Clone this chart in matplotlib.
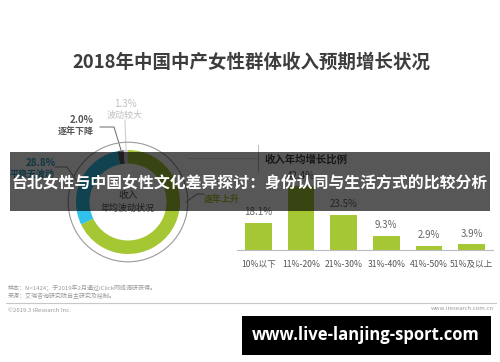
import matplotlib
matplotlib.use("Agg")
import matplotlib.pyplot as plt
from matplotlib.patches import Rectangle, Circle

plt.rcParams['font.family'] = ['Noto Sans CJK SC', 'DejaVu Sans']

# donut data (clockwise from 12 o'clock)
ring_names = ["逐年上升", "平稳无波动", "逐年下降", "波动较大"]
ring_values = [67.9, 28.8, 2.0, 1.3]
ring_colors = ["#a5c734", "#2fc2ea", "#595959", "#cfcfcf"]

# bar data
bar_cats = ["10%以下", "11%-20%", "21%-30%", "31%-40%", "41%-50%", "51%及以上"]
bar_values = [18.1, 42.4, 23.5, 9.3, 2.9, 3.9]

title = "2018年中国中产女性群体收入预期增长状况"
banner = "台北女性与中国女性文化差异探讨：身份认同与生活方式的比较分析"
site = "www.live-lanjing-sport.com"

W, H = 500, 362
fig = plt.figure(figsize=(5, 3.62), dpi=100)

# background axes in pixel coords
bg = fig.add_axes([0, 0, 1, 1])
bg.set_xlim(0, W)
bg.set_ylim(H, 0)
bg.axis("off")

bg.text(251, 62, title, ha="center", va="center", fontsize=13.3,
        fontweight="bold", color="#3d3d3d")

# donut labels and leader lines
bg.text(125, 104, "1.3%", ha="center", va="center", fontsize=7, color="#c0c0c0")
bg.text(125, 115, ring_names[3], ha="center", va="center", fontsize=6.5, color="#c0c0c0")
bg.plot([125, 126], [120, 150], color="#c8c8c8", lw=0.7)

bg.text(82, 120, "2.0%", ha="center", va="center", fontsize=7, fontweight="bold", color="#555555")
bg.text(76, 131, ring_names[2], ha="center", va="center", fontsize=6.5, fontweight="bold", color="#555555")
bg.plot([100, 114, 121], [127, 127, 150], color="#666666", lw=0.7)

bg.text(41, 163, "28.8%", ha="center", va="center", fontsize=7, fontweight="bold", color="#2a9cc2")
bg.text(32, 174, ring_names[1], ha="center", va="center", fontsize=6.5, fontweight="bold", color="#2a9cc2")
bg.plot([55, 67, 76], [167, 167, 180], color="#888888", lw=0.7)

bg.text(222, 199, ring_names[0], ha="center", va="center", fontsize=6.5, fontweight="bold", color="#a5c734")
bg.plot([186, 197, 204], [202, 194, 194], color="#888888", lw=0.7)

bg.text(128, 195, "收入", ha="center", va="center", fontsize=7, color="#555555")
bg.text(128, 208, "年均波动状况", ha="center", va="center", fontsize=6.5, color="#555555")

# right panel header
bg.plot([188, 258], [158, 158], color="#aaaaaa", lw=0.7, ls=(0, (1, 1.2)))
bg.plot([258, 258], [145, 172], color="#bbbbbb", lw=0.7)
bg.text(265, 159, "收入年均增长比例", ha="left", va="center", fontsize=7.5,
        fontweight="bold", color="#444444")

# footnotes
bg.text(8, 288, "样本：N=1424；于2019年2月通过iClick网络调研获得。", ha="left",
        va="center", fontsize=4.3, color="#9a9a9a")
bg.text(8, 296, "来源：艾瑞咨询研究院自主研究及绘制。", ha="left", va="center",
        fontsize=4.3, color="#9a9a9a")
bg.plot([6, 496], [303, 303], color="#c8c8c8", lw=0.8)
bg.text(8, 310, "©2019.3 iResearch Inc.", ha="left", va="center", fontsize=4.3, color="#9a9a9a")
bg.text(494, 309, "www.iresearch.com.cn", ha="right", va="center", fontsize=4.3, color="#9a9a9a")

# donut
cx, cy, half = 128, 202, 65
dax = fig.add_axes([(cx - half) / W, 1 - (cy + half) / H, 2 * half / W, 2 * half / H])
dax.pie(ring_values, colors=ring_colors, startangle=90, counterclock=False,
        radius=1.0, wedgeprops=dict(width=0.26, edgecolor="none"))
dax.add_patch(Circle((0, 0), 1.15, fill=False, ec="#9a9a9a", lw=0.8))
dax.set_xlim(-1.25, 1.25)
dax.set_ylim(-1.25, 1.25)
dax.set_aspect("auto")
dax.axis("off")

# bars
bax = fig.add_axes([237 / W, 1 - 250 / H, 256 / W, 75 / H])
xs = range(len(bar_values))
bax.bar(xs, bar_values, width=0.63, color="#a5c734")
for x, v in zip(xs, bar_values):
    bax.annotate(f"{v}%", (x, v), xytext=(0, 4), textcoords="offset points",
                 ha="center", va="bottom", fontsize=7, color="#666666")
bax.set_xlim(-0.5, 5.5)
bax.set_ylim(0, 50)
bax.set_xticks(list(xs))
bax.set_xticklabels(bar_cats, fontsize=6.2, color="#555555")
bax.tick_params(axis="x", length=0, pad=7)
bax.set_yticks([])
for s in ["top", "right", "left"]:
    bax.spines[s].set_visible(False)
bax.spines["bottom"].set_color("#bbbbbb")
bax.spines["bottom"].set_linewidth(0.8)
bax.patch.set_visible(False)

# overlay: banner and site box
ov = fig.add_axes([0, 0, 1, 1], zorder=10)
ov.set_xlim(0, W)
ov.set_ylim(H, 0)
ov.axis("off")
ov.add_patch(Rectangle((10, 152), 480, 59, facecolor="black", alpha=0.66, edgecolor="none"))
ov.text(250, 184, banner, ha="center", va="center", fontsize=11.4,
        fontweight="bold", color="white")
ov.add_patch(Rectangle((242, 316), 249, 39, facecolor="black", edgecolor="none"))
ov.text(366, 335, site, ha="center", va="center", fontsize=12,
        fontweight="bold", color="white", family=["Open Sans", "DejaVu Sans"])

fig.savefig("out.png", dpi=100)
